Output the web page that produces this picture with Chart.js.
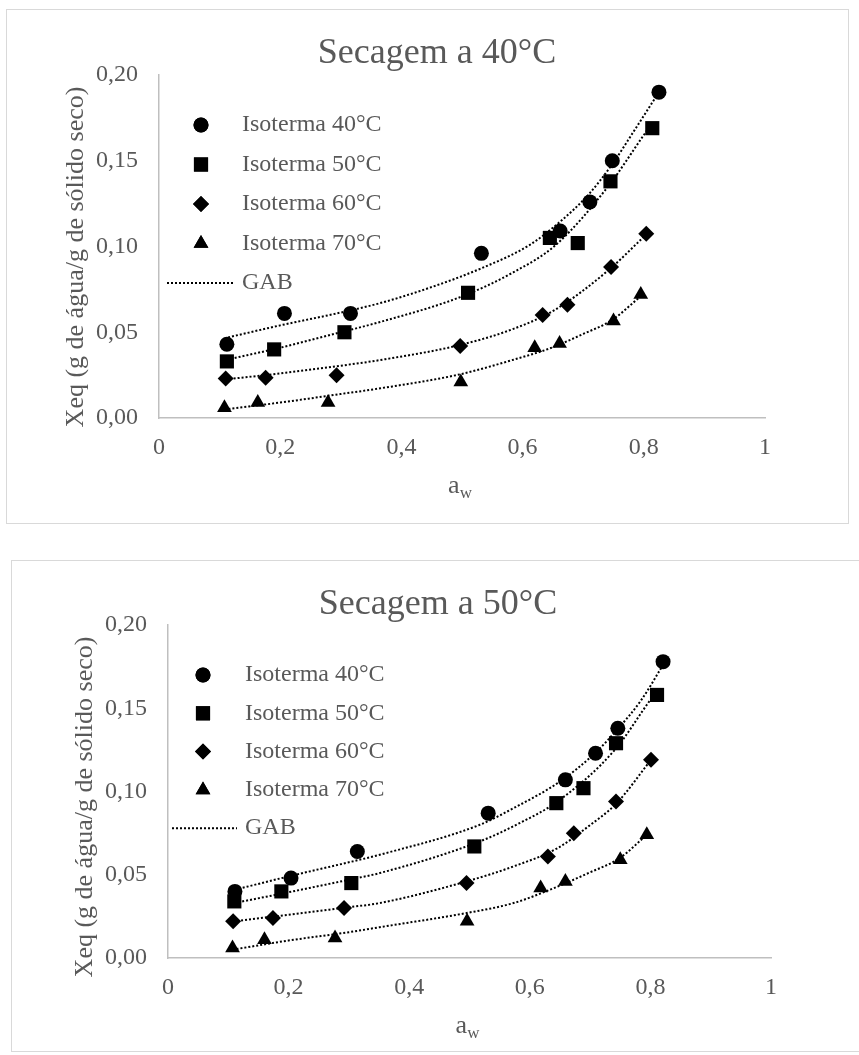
<!DOCTYPE html>
<html>
<head>
<meta charset="utf-8">
<script src="https://cdn.jsdelivr.net/npm/chart.js@4.4.1/dist/chart.umd.min.js"></script>
<style>
    body { margin: 0; background: #fff; width: 859px; height: 1055px; position: relative; overflow: hidden; }
    .frame { position: absolute; border: 1px solid #d9d9d9; box-sizing: border-box; }
    canvas { position: absolute; }
</style>
</head>
<body>
<div class="frame" style="left:6px;top:9px;width:843px;height:515px"></div>
<canvas id="chart40" width="842" height="514" style="left:6px;top:9px"></canvas>
<div class="frame" style="left:11px;top:560px;width:870px;height:492px"></div>
<canvas id="chart50" width="848" height="491" style="left:11px;top:560px"></canvas>
<script>
const seriesLabels = ['Isoterma 40°C', 'Isoterma 50°C', 'Isoterma 60°C', 'Isoterma 70°C'];
const fitLabel = 'GAB';
const xTickLabels = ['0', '0,2', '0,4', '0,6', '0,8', '1'];
const yTickLabels = ['0,00', '0,05', '0,10', '0,15', '0,20'];
const yTitle = 'Xeq (g de água/g de sólido seco)';

// Secagem a 40°C - measured points
const aw40_iso40 = [0.112, 0.207, 0.316, 0.532, 0.662, 0.711, 0.748, 0.825];
const xeq40_iso40 = [0.043, 0.061, 0.061, 0.096, 0.109, 0.126, 0.150, 0.190];
const aw40_iso50 = [0.112, 0.190, 0.306, 0.510, 0.645, 0.691, 0.745, 0.814];
const xeq40_iso50 = [0.033, 0.040, 0.050, 0.073, 0.105, 0.102, 0.138, 0.169];
const aw40_iso60 = [0.110, 0.176, 0.293, 0.497, 0.633, 0.674, 0.746, 0.804];
const xeq40_iso60 = [0.023, 0.0235, 0.025, 0.042, 0.060, 0.066, 0.088, 0.1075];
const aw40_iso70 = [0.108, 0.163, 0.279, 0.498, 0.620, 0.661, 0.750, 0.795];
const xeq40_iso70 = [0.006, 0.009, 0.009, 0.021, 0.041, 0.0435, 0.0565, 0.072];

// Secagem a 40°C - GAB curves
const gab40_aw40 = [0.114, 0.20, 0.30, 0.365, 0.447, 0.53, 0.612, 0.662, 0.708, 0.747, 0.785, 0.825];
const gab40_x40 = [0.047, 0.054, 0.0615, 0.067, 0.076, 0.087, 0.101, 0.1145, 0.130, 0.1475, 0.168, 0.190];
const gab40_aw50 = [0.112, 0.20, 0.30, 0.365, 0.497, 0.585, 0.655, 0.741, 0.80, 0.814];
const gab40_x50 = [0.034, 0.041, 0.050, 0.056, 0.0705, 0.085, 0.101, 0.135, 0.165, 0.172];
const gab40_aw60 = [0.110, 0.20, 0.30, 0.365, 0.497, 0.585, 0.653, 0.741, 0.804];
const gab40_x60 = [0.0225, 0.026, 0.0305, 0.0338, 0.0426, 0.052, 0.063, 0.086, 0.107];
const gab40_aw70 = [0.108, 0.20, 0.30, 0.365, 0.497, 0.585, 0.645, 0.70, 0.747, 0.795];
const gab40_x70 = [0.005, 0.009, 0.014, 0.0173, 0.0255, 0.034, 0.0406, 0.049, 0.057, 0.071];

// Secagem a 50°C - measured points
const aw50_iso40 = [0.111, 0.204, 0.314, 0.531, 0.659, 0.709, 0.746, 0.821];
const xeq50_iso40 = [0.040, 0.048, 0.064, 0.087, 0.107, 0.123, 0.138, 0.178];
const aw50_iso50 = [0.110, 0.188, 0.304, 0.508, 0.644, 0.689, 0.743, 0.811];
const xeq50_iso50 = [0.034, 0.040, 0.045, 0.067, 0.093, 0.102, 0.129, 0.158];
const aw50_iso60 = [0.108, 0.174, 0.292, 0.495, 0.630, 0.673, 0.743, 0.801];
const xeq50_iso60 = [0.022, 0.024, 0.030, 0.045, 0.061, 0.075, 0.094, 0.119];
const aw50_iso70 = [0.107, 0.160, 0.277, 0.496, 0.618, 0.659, 0.750, 0.794];
const xeq50_iso70 = [0.006, 0.011, 0.012, 0.022, 0.042, 0.046, 0.059, 0.074];

// Secagem a 50°C - GAB curves
const gab50_aw40 = [0.111, 0.20, 0.30, 0.351, 0.517, 0.573, 0.65, 0.708, 0.747, 0.785, 0.821];
const gab50_x40 = [0.041, 0.049, 0.0575, 0.062, 0.080, 0.090, 0.106, 0.123, 0.138, 0.155, 0.176];
const gab50_aw50 = [0.110, 0.20, 0.30, 0.351, 0.517, 0.583, 0.646, 0.741, 0.802, 0.811];
const gab50_x50 = [0.033, 0.0395, 0.047, 0.051, 0.070, 0.081, 0.094, 0.125, 0.156, 0.160];
const gab50_aw60 = [0.108, 0.20, 0.30, 0.351, 0.495, 0.573, 0.646, 0.697, 0.744, 0.801];
const gab50_x60 = [0.022, 0.026, 0.0305, 0.033, 0.046, 0.055, 0.066, 0.079, 0.093, 0.119];
const gab50_aw70 = [0.107, 0.20, 0.30, 0.351, 0.495, 0.573, 0.64, 0.697, 0.749, 0.794];
const gab50_x70 = [0.005, 0.0105, 0.0155, 0.0185, 0.027, 0.033, 0.042, 0.051, 0.060, 0.074];

const family = "'Liberation Serif', 'Times New Roman', serif";
const textColor = '#595959';
const axisColor = '#bfbfbf';
const markerStyles = [
    { pointStyle: 'circle', radius: 7.5 },
    { pointStyle: 'rect', radius: 10 },
    { pointStyle: 'rectRot', radius: 8 },
    { pointStyle: 'triangle', radius: 8.5 },
];

Chart.defaults.font.family = family;
Chart.defaults.color = textColor;

function pts(xs, ys) {
    return xs.map((x, i) => ({ x: x, y: ys[i] }));
}

// Draw a legend marker the same way the chart does
function drawMarker(ctx, style, x, y) {
    ctx.fillStyle = '#000';
    ctx.strokeStyle = '#000';
    if (Chart.helpers && Chart.helpers.drawPoint) {
        Chart.helpers.drawPoint(ctx, { pointStyle: style.pointStyle, radius: style.radius, rotation: 0, borderWidth: 0 }, x, y);
        ctx.fill();
    } else {
        ctx.beginPath();
        ctx.arc(x, y, style.radius, 0, Math.PI * 2);
        ctx.fill();
    }
}

// Title, axis titles and the legend, placed like the Excel original
const excelText = {
    id: 'excelText',
    afterDraw(chart, args, opts) {
        const ctx = chart.ctx;
        const area = chart.chartArea;
        ctx.save();
        ctx.fillStyle = textColor;
        ctx.textBaseline = 'middle';

        ctx.font = '36px ' + family;
        ctx.textAlign = 'center';
        ctx.fillText(opts.title, opts.titleX, opts.titleY);

        ctx.save();
        ctx.translate(area.left - 83, opts.yTitleY);
        ctx.rotate(-Math.PI / 2);
        ctx.font = '26px ' + family;
        ctx.fillText(yTitle, 0, 0);
        ctx.restore();

        // a with subscript w
        ctx.textAlign = 'left';
        ctx.font = '26px ' + family;
        const wa = ctx.measureText('a').width;
        ctx.font = '17px ' + family;
        const ww = ctx.measureText('w').width;
        const cx = (area.left + area.right) / 2 - 2;
        const sx = cx - (wa + ww) / 2;
        ctx.font = '26px ' + family;
        ctx.fillText('a', sx, area.bottom + 68);
        ctx.font = '17px ' + family;
        ctx.fillText('w', sx + wa, area.bottom + 76);

        // legend
        ctx.font = '24px ' + family;
        seriesLabels.forEach((label, i) => {
            const y = opts.legendY + i * opts.legendStep;
            drawMarker(ctx, markerStyles[i], opts.markerX, y);
            ctx.fillStyle = textColor;
            ctx.fillText(label, opts.textX, y);
        });
        const gy = opts.legendY + 4 * opts.legendStep;
        ctx.strokeStyle = '#000';
        ctx.lineWidth = 2;
        ctx.setLineDash([2, 2]);
        ctx.beginPath();
        ctx.moveTo(opts.lineX0, gy);
        ctx.lineTo(opts.lineX1, gy);
        ctx.stroke();
        ctx.setLineDash([]);
        ctx.fillStyle = textColor;
        ctx.fillText(fitLabel, opts.textX, gy);
        ctx.restore();
    }
};

function makeChart(canvasId, markers, curves, place) {
    const datasets = [];
    markers.forEach((m, i) => {
        datasets.push({
            label: seriesLabels[i],
            data: pts(m[0], m[1]),
            pointStyle: markerStyles[i].pointStyle,
            pointRadius: markerStyles[i].radius,
            backgroundColor: '#000',
            borderColor: '#000',
            borderWidth: 0,
            showLine: false,
        });
    });
    curves.forEach((c) => {
        datasets.push({
            label: fitLabel,
            data: pts(c[0], c[1]),
            showLine: true,
            pointRadius: 0,
            borderColor: '#000',
            borderWidth: 2,
            borderDash: [2, 2],
            cubicInterpolationMode: 'monotone',
            fill: false,
        });
    });

    const canvas = document.getElementById(canvasId);
    const yWidth = 75; // wide enough that tick labels are not clipped
    const xHeight = 50;

    return new Chart(canvas, {
        type: 'scatter',
        data: { datasets: datasets },
        plugins: [excelText],
        options: {
            responsive: false,
            animation: false,
            events: [],
            layout: {
                padding: {
                    left: place.areaLeft - yWidth,
                    top: place.areaTop,
                    right: canvas.width - place.areaRight,
                    bottom: canvas.height - place.areaBottom - xHeight,
                }
            },
            plugins: {
                legend: { display: false },
                tooltip: { enabled: false },
                excelText: place.text,
            },
            scales: {
                x: {
                    type: 'linear',
                    min: 0,
                    max: 1,
                    grid: { display: false },
                    border: { display: true, color: axisColor, width: 1.5 },
                    ticks: {
                        stepSize: 0.2,
                        padding: 7,
                        color: textColor,
                        font: { size: 24 },
                        callback: (v, i) => xTickLabels[i],
                    },
                    afterFit: (s) => { s.height = xHeight; },
                },
                y: {
                    type: 'linear',
                    min: 0,
                    max: 0.2,
                    grid: { display: false },
                    border: { display: true, color: axisColor, width: 1.5 },
                    ticks: {
                        stepSize: 0.05,
                        padding: 13,
                        color: textColor,
                        font: { size: 24 },
                        callback: (v, i) => yTickLabels[i],
                    },
                    afterFit: (s) => { s.width = yWidth; },
                },
            },
        },
    });
}

makeChart('chart40',
    [[aw40_iso40, xeq40_iso40], [aw40_iso50, xeq40_iso50], [aw40_iso60, xeq40_iso60], [aw40_iso70, xeq40_iso70]],
    [[gab40_aw40, gab40_x40], [gab40_aw50, gab40_x50], [gab40_aw60, gab40_x60], [gab40_aw70, gab40_x70]],
    {
        areaLeft: 153, areaTop: 66, areaRight: 759, areaBottom: 409,
        text: {
            title: 'Secagem a 40°C', titleX: 431, titleY: 45, yTitleY: 248,
            markerX: 195, textX: 236, legendY: 116, legendStep: 39.5, lineX0: 161, lineX1: 227,
        },
    });

makeChart('chart50',
    [[aw50_iso40, xeq50_iso40], [aw50_iso50, xeq50_iso50], [aw50_iso60, xeq50_iso60], [aw50_iso70, xeq50_iso70]],
    [[gab50_aw40, gab50_x40], [gab50_aw50, gab50_x50], [gab50_aw60, gab50_x60], [gab50_aw70, gab50_x70]],
    {
        areaLeft: 157, areaTop: 65, areaRight: 760, areaBottom: 398,
        text: {
            title: 'Secagem a 50°C', titleX: 427, titleY: 45, yTitleY: 247,
            markerX: 192, textX: 234, legendY: 115, legendStep: 38.3, lineX0: 161, lineX1: 226,
        },
    });
</script>
</body>
</html>
